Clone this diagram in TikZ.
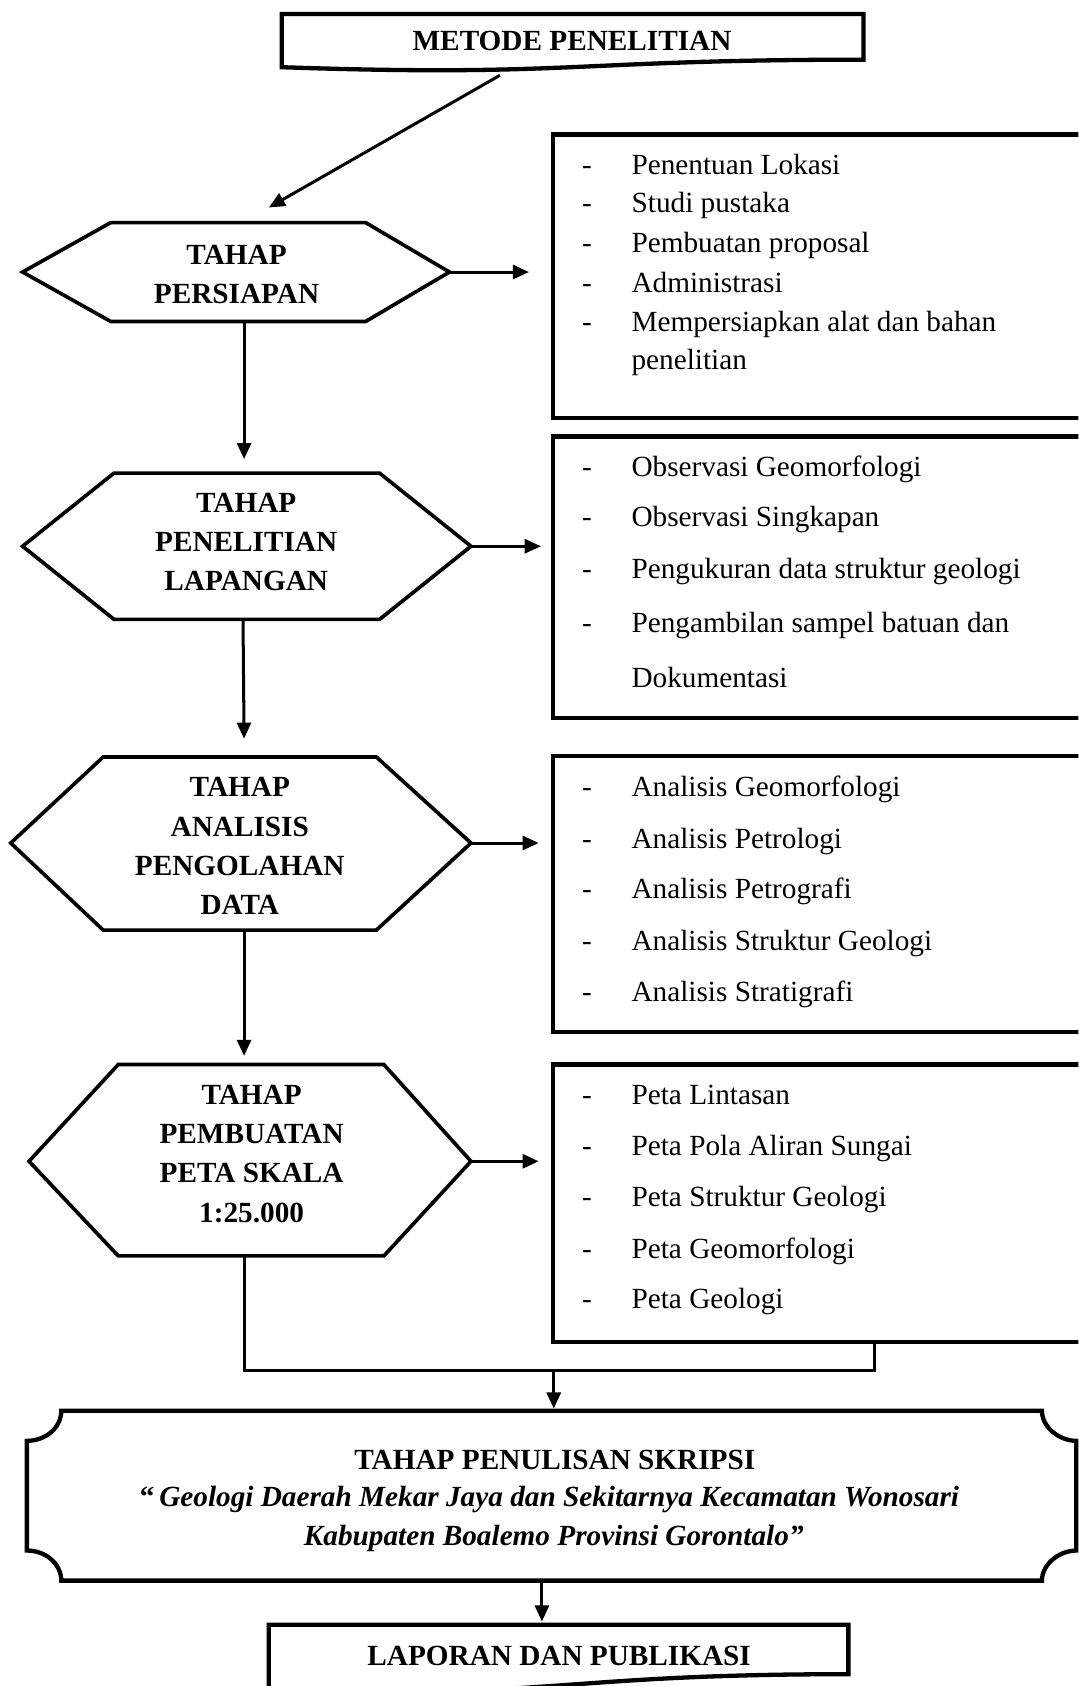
\documentclass[tikz,border=0pt]{standalone}
\usepackage{fontspec}
\setmainfont{Liberation Serif}
\usetikzlibrary{arrows.meta}
\begin{document}
\begin{tikzpicture}[x=0.5pt,y=-0.5pt,
  shapeline/.style={line width=1.7pt, line join=miter},
  boxline/.style={line width=2pt, line join=miter},
  arr/.style={line width=1.4pt, -{Triangle[length=7.5pt,width=6.5pt]}},
  conn/.style={line width=1.4pt, line join=miter},
  hextext/.style={align=center, font=\fontsize{13.6}{18.3}\selectfont\bfseries, inner sep=0pt},
  btext/.style={inner sep=0pt, font=\fontsize{13.6}{16}\selectfont\bfseries},
  itemtext/.style={anchor=base west, inner sep=0pt, font=\fontsize{13.6}{16}\selectfont},
  frame/.style={draw=none, inner sep=0pt, anchor=north west},
]
\useasboundingbox (0,0) rectangle (1003,1568);
\clip (0,0) rectangle (1003,1568);
\fill[white] (0,0) rectangle (1003,1568);

% ---------- top box ----------
\draw[boxline] (262,13) -- (803,13) -- (803,55.5)
  .. controls (532,55.5) and (532,71.7) .. (262,62.5) -- cycle;
\node[btext] (top) at (532,38) {METODE PENELITIAN};
\coordinate (d0) at (465,70);
\coordinate (d1) at (250,193);
\draw[arr] (d0) -- (d1);

% ---------- hexagon 1 ----------
\coordinate (h1l) at (21,253); \coordinate (h1tl) at (103,207);
\coordinate (h1tr) at (340,207); \coordinate (h1r) at (418,253);
\coordinate (h1br) at (340,299); \coordinate (h1bl) at (103,299);
\draw[shapeline] (h1l) -- (h1tl) -- (h1tr) -- (h1r) -- (h1br) -- (h1bl) -- cycle;
\node[hextext] (h1) at (220,255) {TAHAP\\PERSIAPAN};

% ---------- hexagon 2 ----------
\coordinate (h2l) at (21,508); \coordinate (h2tl) at (106,440);
\coordinate (h2tr) at (353,440); \coordinate (h2r) at (438,508);
\coordinate (h2br) at (353,576); \coordinate (h2bl) at (106,576);
\draw[shapeline] (h2l) -- (h2tl) -- (h2tr) -- (h2r) -- (h2br) -- (h2bl) -- cycle;
\node[hextext] (h2) at (229,504) {TAHAP\\PENELITIAN\\LAPANGAN};

% ---------- hexagon 3 ----------
\coordinate (h3l) at (10,784); \coordinate (h3tl) at (96,704);
\coordinate (h3tr) at (350,704); \coordinate (h3r) at (438,784);
\coordinate (h3br) at (350,865); \coordinate (h3bl) at (96,865);
\draw[shapeline] (h3l) -- (h3tl) -- (h3tr) -- (h3r) -- (h3br) -- (h3bl) -- cycle;
\node[hextext] (h3) at (223,787) {TAHAP\\ANALISIS\\PENGOLAHAN\\DATA};

% ---------- hexagon 4 ----------
\coordinate (h4l) at (27,1080); \coordinate (h4tl) at (110,990);
\coordinate (h4tr) at (357,990); \coordinate (h4r) at (438,1080);
\coordinate (h4br) at (357,1168); \coordinate (h4bl) at (110,1168);
\draw[shapeline] (h4l) -- (h4tl) -- (h4tr) -- (h4r) -- (h4br) -- (h4bl) -- cycle;
\node[hextext] (h4) at (234,1073) {TAHAP\\PEMBUATAN\\PETA SKALA\\1:25.000};

% ---------- right boxes (sizes in pt = half of picture units) ----------
\node[frame, minimum width=260pt, minimum height=131.5pt] (b1) at (514,125) {};
\node[frame, minimum width=260pt, minimum height=130.5pt] (b2) at (514,406) {};
\node[frame, minimum width=260pt, minimum height=128pt] (b3) at (514,703) {};
\node[frame, minimum width=260pt, minimum height=128.5pt] (b4) at (514,990) {};
\foreach \b in {b1,b2,b3,b4}{
  \draw[boxline] (\b.north east) -- (\b.north west) -- (\b.south west) -- (\b.south east);
}

% items box 1
\foreach \y/\t [count=\i] in {153/Penentuan Lokasi, 189/Studi pustaka, 226/Pembuatan proposal,
  263/Administrasi, 299/Mempersiapkan alat dan bahan}{
  \node[itemtext] (b1d\i) at (541,\y+9) {-};
  \node[itemtext] (b1t\i) at (587,\y+9) {\t};
}
\node[itemtext] (b1t6) at (587,344) {penelitian};

% items box 2
\foreach \y/\t [count=\i] in {434/Observasi Geomorfologi, 481/Observasi Singkapan,
  529/Pengukuran data struktur geologi, 579/Pengambilan sampel batuan dan}{
  \node[itemtext] (b2d\i) at (541,\y+9) {-};
  \node[itemtext] (b2t\i) at (587,\y+9) {\t};
}
\node[itemtext] (b2t5) at (587,639) {Dokumentasi};

% items box 3
\foreach \y/\t [count=\i] in {732/Analisis Geomorfologi, 780/Analisis Petrologi,
  827/Analisis Petrografi, 875/Analisis Struktur Geologi, 922/Analisis Stratigrafi}{
  \node[itemtext] (b3d\i) at (541,\y+9) {-};
  \node[itemtext] (b3t\i) at (587,\y+9) {\t};
}

% items box 4
\foreach \y/\t [count=\i] in {1018/Peta Lintasan, 1066/Peta Pola Aliran Sungai,
  1113/Peta Struktur Geologi, 1161/Peta Geomorfologi, 1208/Peta Geologi}{
  \node[itemtext] (b4d\i) at (541,\y+9) {-};
  \node[itemtext] (b4t\i) at (587,\y+9) {\t};
}

% ---------- horizontal arrows ----------
\coordinate (t1) at (492,253);
\coordinate (t2) at (503,508);
\coordinate (t3) at (501,784);
\coordinate (t4) at (501,1080);
\draw[arr] (h1r) -- (t1);
\draw[arr] (h2r) -- (t2);
\draw[arr] (h3r) -- (t3);
\draw[arr] (h4r) -- (t4);

% ---------- vertical arrows ----------
\coordinate (h1b) at (227,299); \coordinate (v1) at (227,427);
\coordinate (h2b) at (226,576); \coordinate (v2) at (227,687);
\coordinate (h3b) at (227,865); \coordinate (v3) at (227,982);
\draw[arr] (h1b) -- (v1);
\draw[arr] (h2b) -- (v2);
\draw[arr] (h3b) -- (v3);

% ---------- join ----------
\coordinate (h4b) at (227,1168);
\coordinate (j1) at (227,1275);
\coordinate (j2) at (813,1275);
\coordinate (b4b) at (813,1247);
\draw[conn] (h4b) -- (j1) -- (j2) -- (b4b);
\coordinate (j3) at (515,1275);
\coordinate (v4) at (515,1310);
\draw[arr] (j3) -- (v4);

% ---------- scroll box ----------
\node[draw=none, inner sep=0pt, minimum width=488pt, minimum height=79pt] (sc) at (513,1391) {};
\draw[boxline] (57,1312) -- (969,1312) .. controls (969,1327.5) and (985.3,1340) .. (1001,1340)
  -- (1001,1442) .. controls (985.3,1442) and (969,1454.5) .. (969,1470)
  -- (57,1470) .. controls (57,1454.5) and (42.7,1442) .. (25,1442)
  -- (25,1340) .. controls (42.7,1340) and (57,1327.5) .. (57,1312) -- cycle;
\node[btext] (sc1) at (516,1358) {TAHAP PENULISAN SKRIPSI};
\node[btext] (sc2) at (511,1395) {“\,\textit{Geologi Daerah Mekar Jaya dan Sekitarnya Kecamatan Wonosari}};
\node[btext] (sc3) at (515,1431) {\textit{Kabupaten Boalemo Provinsi Gorontalo”}};

% ---------- bottom box ----------
\coordinate (s5) at (504,1470);
\coordinate (v5) at (504,1508);
\draw[arr] (s5) -- (v5);
\draw[boxline] (250,1511) -- (789,1511) -- (789,1557)
  .. controls (520,1557) and (520,1580) .. (250,1572) -- cycle;
\node[btext] (bot) at (520,1540) {LAPORAN DAN PUBLIKASI};
\end{tikzpicture}
\end{document}
